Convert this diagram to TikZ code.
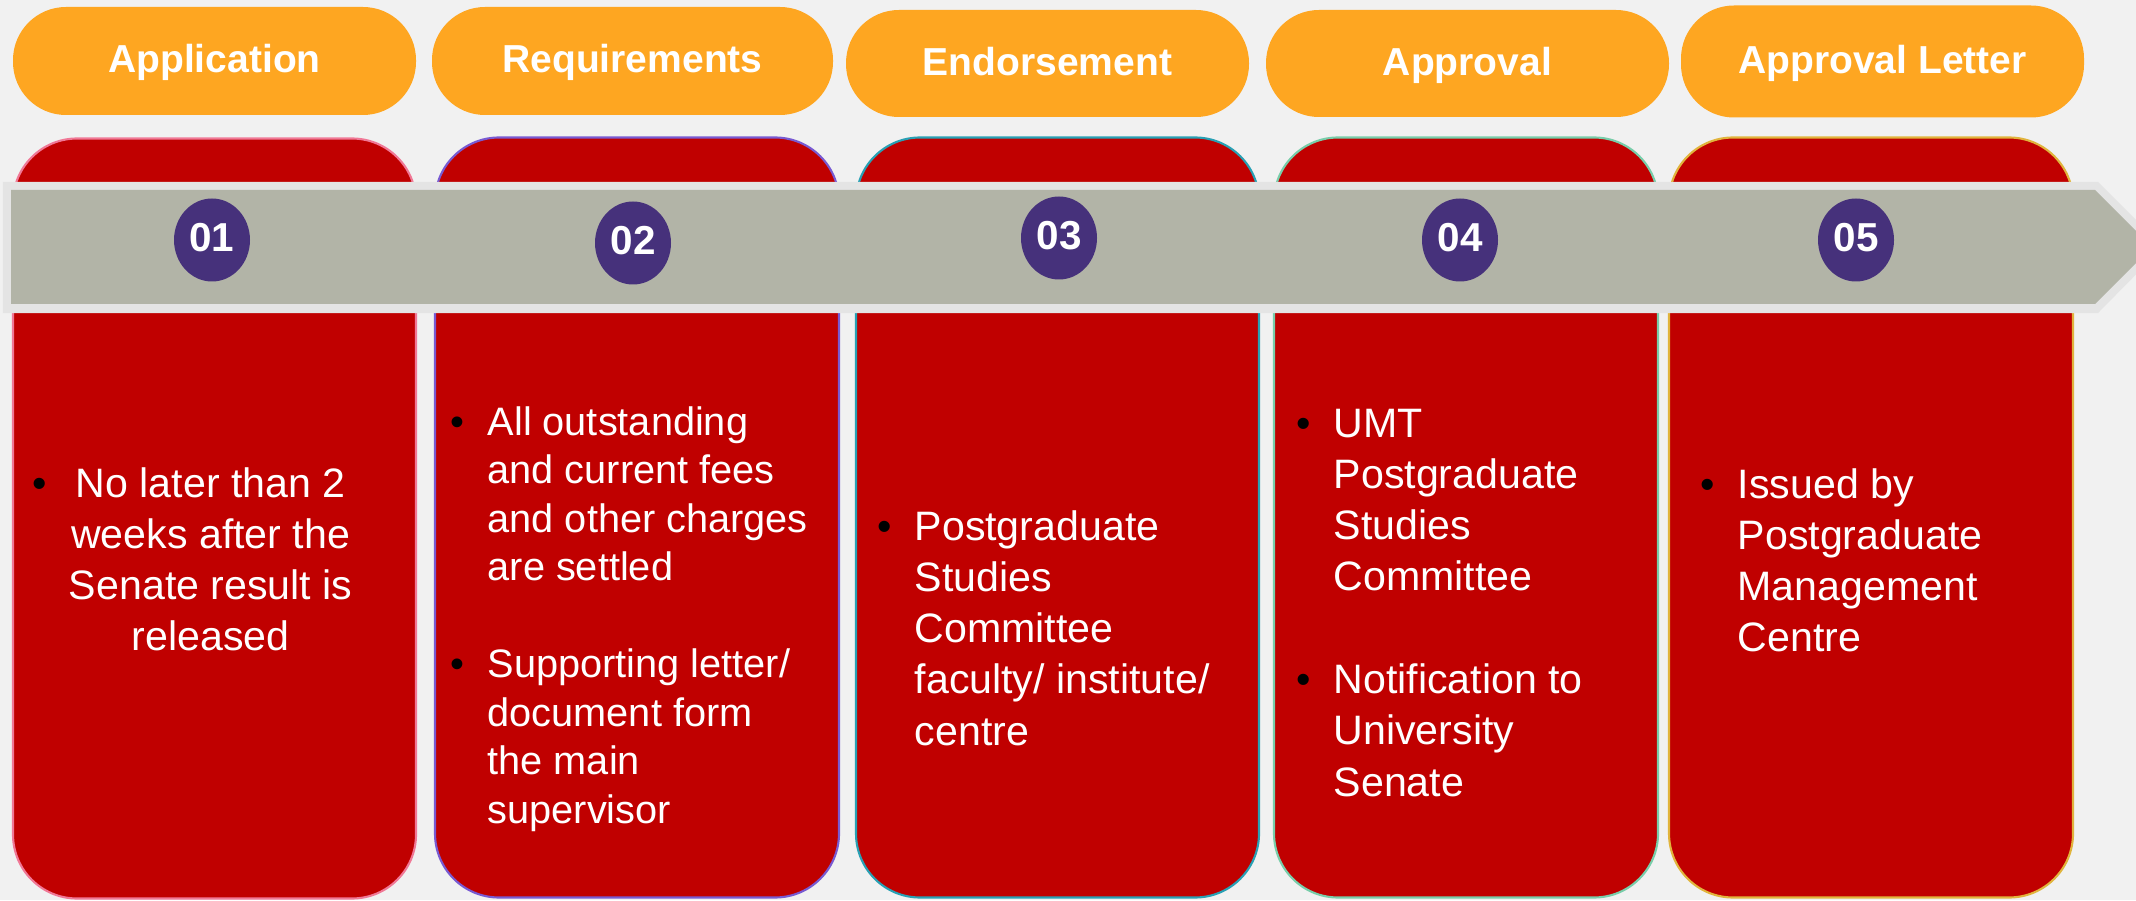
\documentclass[tikz,border=0pt]{standalone}
\usepackage{fontspec}
\setmainfont{Liberation Sans}
\usepackage{xcolor,array}
\definecolor{stagebg}{RGB}{241,241,241}
\definecolor{stageorange}{RGB}{254,166,33}
\definecolor{stagered}{RGB}{192,0,0}
\definecolor{arrowgray}{RGB}{178,180,167}
\definecolor{arrowrim}{RGB}{228,228,228}
\definecolor{numpurple}{RGB}{70,49,123}
\definecolor{rimpink}{RGB}{240,120,150}
\definecolor{rimviolet}{RGB}{120,90,210}
\definecolor{rimteal}{RGB}{40,160,180}
\definecolor{rimmint}{RGB}{120,205,170}
\definecolor{rimgold}{RGB}{225,180,60}
\usetikzlibrary{shapes.geometric}
\newcommand{\bulat}[1]{\makebox[#1][l]{\color{black}\textbullet}}
\newcommand{\bul}{\bulat{0.37cm}}

\begin{document}
\begin{tikzpicture}[
  stagehead/.style={fill=stageorange,rounded corners=0.53cm,text=white,inner sep=0pt,
    text height=1.5ex,text depth=0.25ex,font=\bfseries\fontsize{11.1}{13}\selectfont},
  stagebox/.style={fill=stagered,rounded corners=0.64cm,line width=0.6pt,minimum height=7.6cm},
  stepnum/.style={ellipse,fill=numpurple,minimum width=0.76cm,minimum height=0.83cm,inner sep=0pt,
    text=white,text height=1.5ex,text depth=0.25ex,font=\bfseries\fontsize{11.5}{13}\selectfont},
  stagetext/.style={text=white,inner sep=0pt,anchor=base west,font=\fontsize{11.7}{14.6}\selectfont}
]
  \useasboundingbox (0,0) rectangle (21.36,9);
  \fill[stagebg] (0,0) rectangle (21.36,9);
  % Headers
  \node[stagehead,minimum width=4.03cm,minimum height=1.08cm] (h1) at (2.145,8.39) {Application};
  \node[stagehead,minimum width=4.01cm,minimum height=1.08cm] (h2) at (6.325,8.39) {Requirements};
  \node[stagehead,minimum width=4.03cm,minimum height=1.07cm] (h3) at (10.475,8.365) {Endorsement};
  \node[stagehead,minimum width=4.03cm,minimum height=1.07cm] (h4) at (14.675,8.365) {Approval};
  \node[stagehead,minimum width=4.03cm,minimum height=1.12cm] (h5) at (18.825,8.385) {Approval Letter};
  % Red columns
  \node[stagebox,draw=rimpink,minimum width=4.03cm] (b1) at (2.145,3.815) {};
  \node[stagebox,draw=rimviolet,minimum width=4.04cm] (b2) at (6.37,3.825) {};
  \node[stagebox,draw=rimteal,minimum width=4.03cm] (b3) at (10.575,3.825) {};
  \node[stagebox,draw=rimmint,minimum width=3.84cm] (b4) at (14.66,3.825) {};
  \node[stagebox,draw=rimgold,minimum width=4.04cm] (b5) at (18.71,3.825) {};
  % Timeline arrow
  \fill[arrowrim] (0.03,7.18) -- (20.98,7.18) -- (21.63,6.53) -- (20.98,5.87) -- (0.03,5.87) -- cycle;
  \fill[arrowgray] (0.11,7.10) -- (20.95,7.10) -- (21.52,6.53) -- (20.95,5.96) -- (0.11,5.96) -- cycle;
  % Step numbers
  \node[stepnum] (n1) at (2.12,6.60) {01};
  \node[stepnum] (n2) at (6.33,6.57) {02};
  \node[stepnum] (n3) at (10.59,6.62) {03};
  \node[stepnum] (n4) at (14.60,6.60) {04};
  \node[stepnum] (n5) at (18.56,6.60) {05};
  % Step 1: Application
  \node[stagetext] (t1) at (0.32,4.03) {\begin{tabular}[t]{@{}l@{}>{\centering\arraybackslash}p{2.9cm}@{}}
    \bulat{0.33cm} & No later than 2\\ & weeks after the\\ & Senate result is\\ & released
  \end{tabular}};
  % Step 2: Requirements
  \node[stagetext,font=\fontsize{11.3}{13.8}\selectfont] (t2) at (4.50,4.65) {\begin{tabular}[t]{@{}l@{}l@{}}
    \bul & All outstanding\\ & and current fees\\ & and other charges\\ & are settled\\ & \\
    \bul & Supporting letter/\\ & document form\\ & the main\\ & supervisor
  \end{tabular}};
  % Step 3: Endorsement
  \node[stagetext] (t3) at (8.77,3.60) {\begin{tabular}[t]{@{}l@{}l@{}}
    \bul & Postgraduate\\ & Studies\\ & Committee\\ & faculty/ institute/\\ & centre
  \end{tabular}};
  % Step 4: Approval
  \node[stagetext] (t4) at (12.96,4.63) {\begin{tabular}[t]{@{}l@{}l@{}}
    \bul & UMT\\ & Postgraduate\\ & Studies\\ & Committee\\ & \\
    \bul & Notification to\\ & University\\ & Senate
  \end{tabular}};
  % Step 5: Approval Letter
  \node[stagetext] (t5) at (17.00,4.02) {\begin{tabular}[t]{@{}l@{}l@{}}
    \bul & Issued by\\ & Postgraduate\\ & Management\\ & Centre
  \end{tabular}};
\end{tikzpicture}
\end{document}
